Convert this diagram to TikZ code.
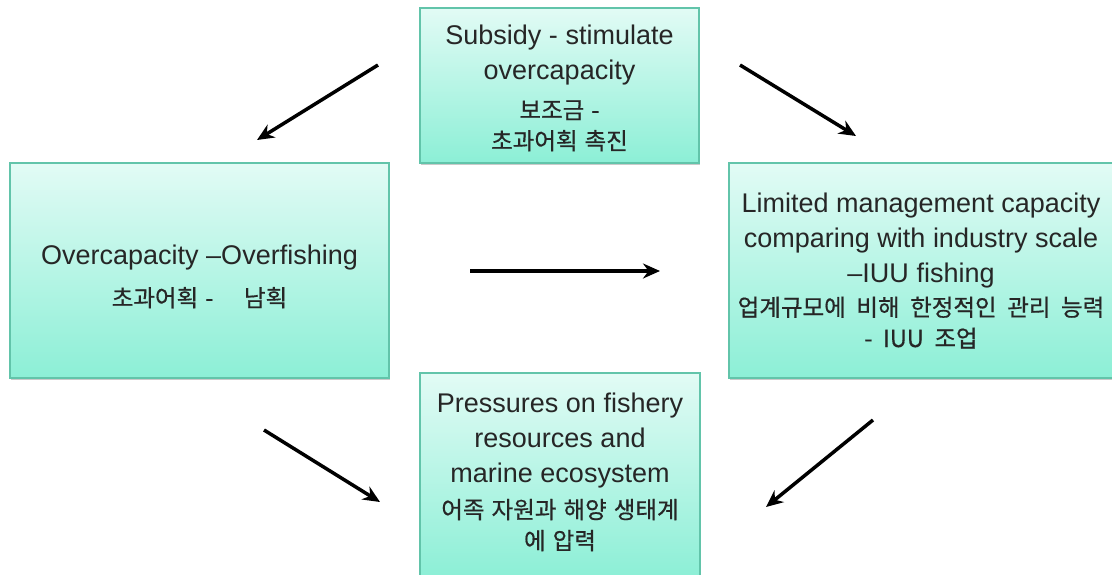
\documentclass[tikz,border=0pt]{standalone}
\usepackage{fontspec}
\setmainfont{Liberation Sans}
\newfontfamily\kofont[FakeBold=0.6]{Noto Sans CJK KR}
\usetikzlibrary{arrows.meta,shadows}
\newcommand\en{\fontsize{27}{35}\selectfont\spaceskip=0.28em\relax}
\newcommand\ko{\kofont\fontsize{23.5}{31}\selectfont\spaceskip=0.3em\relax}
\newcommand\kos{\kofont\fontsize{23.5}{31}\selectfont\spaceskip=0.45em\relax}
\definecolor{boxtop}{RGB}{226,251,245}
\definecolor{boxbot}{RGB}{140,239,214}
\definecolor{boxline}{RGB}{98,196,170}
\tikzset{
  card/.style={rectangle, draw=boxline, line width=1.2pt, top color=boxtop, bottom color=boxbot,
    align=center, inner sep=0pt, text=black!85,
    drop shadow={shadow xshift=1pt, shadow yshift=-2pt, opacity=0.35, fill=black!60}},
  flow/.style={-{Stealth[length=17pt,width=15pt]}, line width=3.5pt, black}
}
\begin{document}
\begin{tikzpicture}[x=1pt,y=-1pt]
\useasboundingbox (0,0) rectangle (1112,574);
\node[card, minimum width=279pt, minimum height=155pt, text width=275pt] (top) at (559.5,85.5)
  {\en\rule{0pt}{25pt}Subsidy - stimulate\\overcapacity\par\vspace{8pt}\ko 보조금 -\\초과어획 촉진\par};
\node[card, minimum width=379pt, minimum height=215pt, text width=375pt] (left) at (199.5,270.5)
  {\en\rule{0pt}{32pt}Overcapacity --Overfishing\par\vspace{11pt}\ko 초과어획 -\hspace{1.3em}남획\par};
\node[card, minimum width=384pt, minimum height=215pt, text width=382pt] (right) at (921,270.5)
  {\en Limited management capacity\\comparing with industry scale\\--IUU fishing\par\vspace{3pt}\kos 업계규모에 비해 한정적인 관리 능력\\- IUU 조업\par};
\node[card, minimum width=280pt, minimum height=205pt, text width=276pt] (bottom) at (560,475.5)
  {\en Pressures on fishery\\resources and\\marine ecosystem\par\vspace{5pt}\ko 어족 자원과 해양 생태계\\에 압력\par\vspace{7pt}};
\coordinate (a1s) at (378,65);  \coordinate (a1e) at (257,140);
\coordinate (a2s) at (740,65);  \coordinate (a2e) at (856,136);
\coordinate (a3s) at (470,271); \coordinate (a3e) at (660,271);
\coordinate (a4s) at (264,430); \coordinate (a4e) at (380,502);
\coordinate (a5s) at (873,420); \coordinate (a5e) at (766,507);
\draw[flow] (a1s) -- (a1e);
\draw[flow] (a2s) -- (a2e);
\draw[flow] (a3s) -- (a3e);
\draw[flow] (a4s) -- (a4e);
\draw[flow] (a5s) -- (a5e);
\end{tikzpicture}
\end{document}
